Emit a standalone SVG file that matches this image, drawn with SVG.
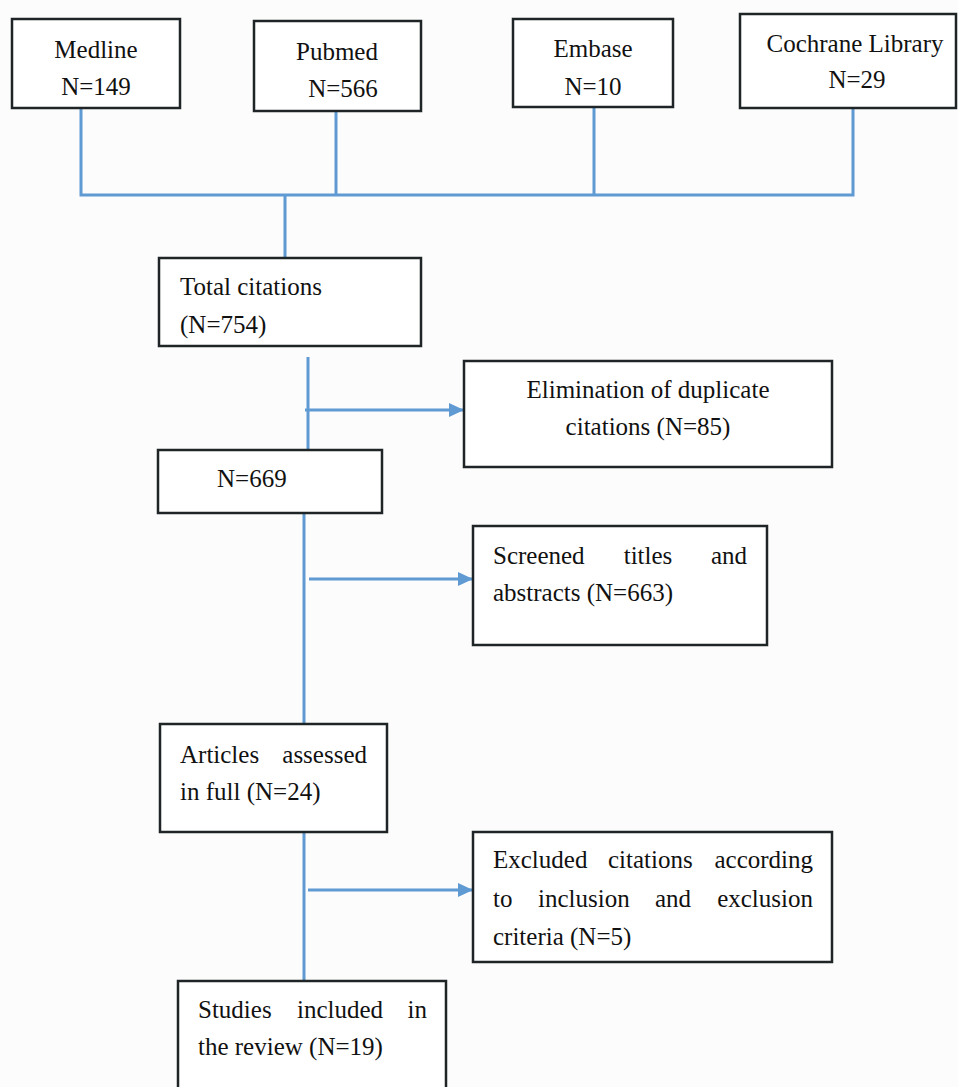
<svg xmlns="http://www.w3.org/2000/svg" width="958" height="1087" viewBox="0 0 958 1087">
<defs>
<style>
.box{fill:#ffffff;stroke:#1f2526;stroke-width:2.5}
.t{font-family:"Liberation Serif","Times New Roman",serif;font-size:25px;fill:#111}
.c{text-anchor:middle}
.e{text-anchor:end}
.ln{fill:none;stroke:#5f9ad3;stroke-width:3}
</style>
<marker id="ah" markerUnits="userSpaceOnUse" markerWidth="16" markerHeight="14" refX="15" refY="7" orient="auto">
<path d="M0,0 L15,7 L0,14 Z" fill="#5f9ad3"/>
</marker>
</defs>
<rect x="0" y="0" width="958" height="1087" fill="#fcfcfd"/>
<g id="connectors">
<path class="ln" d="M81,108 V195 H853 V108"/>
<path class="ln" d="M336,111 V195"/>
<path class="ln" d="M594,107 V195"/>
<path class="ln" d="M285,195 V258"/>
<path class="ln" d="M308,357 V450"/>
<path class="ln" d="M305,410 H464" marker-end="url(#ah)"/>
<path class="ln" d="M304,513 V724"/>
<path class="ln" d="M309,579 H473" marker-end="url(#ah)"/>
<path class="ln" d="M304,832 V981"/>
<path class="ln" d="M308,890 H473" marker-end="url(#ah)"/>
</g>
<g id="medline">
<rect class="box" x="12" y="19" width="168" height="89"/>
<text class="t c" x="96" y="58">Medline</text>
<text class="t c" x="96" y="95">N=149</text>
</g>
<g id="pubmed">
<rect class="box" x="254" y="21" width="167" height="90"/>
<text class="t c" x="337" y="60">Pubmed</text>
<text class="t c" x="343" y="97">N=566</text>
</g>
<g id="embase">
<rect class="box" x="513" y="19" width="160" height="88"/>
<text class="t c" x="593" y="57">Embase</text>
<text class="t c" x="593" y="95">N=10</text>
</g>
<g id="cochrane">
<rect class="box" x="740" y="14" width="216" height="94"/>
<text class="t c" x="855" y="52">Cochrane Library</text>
<text class="t c" x="857" y="88">N=29</text>
</g>
<g id="total">
<rect class="box" x="159" y="258" width="262" height="88"/>
<text class="t" x="180" y="295">Total citations</text>
<text class="t" x="180" y="333">(N=754)</text>
</g>
<g id="elimination">
<rect class="box" x="464" y="361" width="368" height="106"/>
<text class="t c" x="648" y="398">Elimination of duplicate</text>
<text class="t c" x="648" y="435">citations (N=85)</text>
</g>
<g id="n669">
<rect class="box" x="158" y="450" width="224" height="63"/>
<text class="t" x="217" y="487">N=669</text>
</g>
<g id="screened">
<rect class="box" x="473" y="526" width="294" height="119"/>
<text class="t" x="493" y="564">Screened</text>
<text class="t c" x="648" y="564">titles</text>
<text class="t e" x="747" y="564">and</text>
<text class="t" x="493" y="601">abstracts (N=663)</text>
</g>
<g id="articles">
<rect class="box" x="160" y="724" width="227" height="108"/>
<text class="t" x="180" y="763">Articles</text>
<text class="t e" x="367" y="763">assessed</text>
<text class="t" x="180" y="800">in full (N=24)</text>
</g>
<g id="excluded">
<rect class="box" x="473" y="832" width="359" height="130"/>
<text class="t" x="493" y="868">Excluded</text>
<text class="t" x="608" y="868">citations</text>
<text class="t e" x="813" y="868">according</text>
<text class="t" x="493" y="907">to</text>
<text class="t" x="538" y="907">inclusion</text>
<text class="t" x="655" y="907">and</text>
<text class="t e" x="813" y="907">exclusion</text>
<text class="t" x="493" y="945">criteria (N=5)</text>
</g>
<g id="studies">
<rect class="box" x="178" y="981" width="268" height="120"/>
<text class="t" x="198" y="1018">Studies</text>
<text class="t" x="297" y="1018">included</text>
<text class="t e" x="427" y="1018">in</text>
<text class="t" x="198" y="1055">the review (N=19)</text>
</g>
</svg>
